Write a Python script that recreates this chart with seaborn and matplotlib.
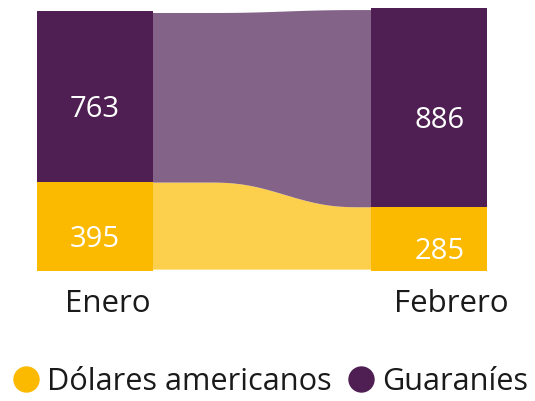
import numpy as np
import pandas as pd
import seaborn as sns
import matplotlib.pyplot as plt
from matplotlib.lines import Line2D
from matplotlib.transforms import ScaledTranslation

# Data
meses = ["Enero", "Febrero"]
dolares = [395, 285]
guaranies = [763, 886]
series = ["Dólares americanos", "Guaraníes"]

# Colours
bar_colors = ["#FBBA00", "#4F1F53"]
ribbon_colors = ["#FCD04C", "#846389"]
text_color = "#1a1a1a"

sns.set_style("white")
plt.rcParams["font.family"] = ["Open Sans", "DejaVu Sans"]

df = pd.DataFrame({"mes": meses, "dolares": dolares, "guaranies": guaranies})
df["total"] = df["dolares"] + df["guaranies"]

W, H = 535, 401
fig = plt.figure(figsize=(W / 100, H / 100), dpi=100)
ax = fig.add_axes([37 / W, 1 - 270.7 / H, 450 / W, 262.7 / H])

bw = 0.347
# stacked bars: total in purple, dollars on top of it in yellow
sns.barplot(data=df, x="mes", y="total", color=bar_colors[1], width=bw,
            saturation=1, linewidth=0, ax=ax, zorder=3)
sns.barplot(data=df, x="mes", y="dolares", color=bar_colors[0], width=bw,
            saturation=1, linewidth=0, ax=ax, zorder=3)

# ribbons between the two bars (tucked a little under the bars)
x0, x1 = bw / 2, 1 - bw / 2
t = np.linspace(0, 1, 200)
s = np.clip((t - 0.255) / 0.69, 0, 1)
s = s ** 3 * (s * (s * 6 - 15) + 10)
xs = (x0 - 0.01) + (x1 - x0 + 0.02) * t

def ribbon(a, b):
    return a + (b - a) * s

inset = 7
d_line = ribbon(df["dolares"][0], df["dolares"][1])
t_line = ribbon(df["total"][0], df["total"][1]) - inset
ax.fill_between(xs, inset, d_line, color=ribbon_colors[0], lw=0, zorder=2)
ax.fill_between(xs, d_line, t_line, color=ribbon_colors[1], lw=0, zorder=2)

ax.set_xlim(-bw / 2, 1 + bw / 2)
ax.set_ylim(0, df["total"].max())

# value labels
nudge = [0, 7.5]  # points
for i in range(len(meses)):
    d, g = df["dolares"][i], df["guaranies"][i]
    for val, mid in [(d, d / 2), (g, d + g / 2)]:
        ax.annotate(str(val), xy=(i, mid), xytext=(nudge[i], -14.5),
                    textcoords="offset points", ha="center", va="baseline",
                    color="white", fontsize=21, zorder=5)

ax.set_xlabel("")
ax.set_ylabel("")
ax.set_yticks([])
ax.set_xticks([0, 1])
ax.set_xticklabels(meses, fontsize=22.5, color=text_color)
ax.tick_params(axis="x", length=0, pad=13.5)
for lab, dx in zip(ax.get_xticklabels(), [9, 15.8]):
    lab.set_transform(lab.get_transform() + ScaledTranslation(dx / 72, 0, fig.dpi_scale_trans))
sns.despine(ax=ax, left=True, bottom=True)

handles = [Line2D([], [], marker="o", ls="", markersize=19, color=c, markeredgewidth=0)
           for c in bar_colors]
leg = fig.legend(handles, series, loc="lower left", bbox_to_anchor=(11 / W, 4 / H),
                 ncol=2, frameon=False, fontsize=22.1, handlelength=1,
                 handletextpad=0.18, columnspacing=0.45, borderaxespad=0, borderpad=0)
for txt in leg.get_texts():
    txt.set_color(text_color)

fig.savefig("out.png", dpi=100)
